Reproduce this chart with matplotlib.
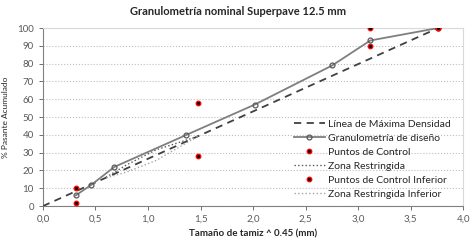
import numpy as np
import matplotlib
matplotlib.use("Agg")
import matplotlib.pyplot as plt

plt.rcParams['font.family'] = ['Lato', 'DejaVu Sans']

# sieve sizes raised to 0.45
x_maxden = [0.0, 3.762]
y_maxden = [0.0, 100.0]

x_design = [3.762, 3.116, 2.754, 2.016, 1.366, 0.680, 0.462, 0.312]
y_design = [100, 93, 79, 57, 40, 22, 12, 6]

x_ctrl = [3.762, 3.116, 1.472, 0.312]
y_ctrl_sup = [100, 100, 58, 10]
y_ctrl_inf = [100, 90, 28, 2]

x_rz = [1.472, 1.077, 0.795, 0.582]
y_rz_sup = [39.1, 31.6, 23.1, 15.5]
y_rz_inf = [39.1, 25.6, 19.1, 15.5]

xticks = np.arange(0, 4.01, 0.5)
yticks = np.arange(0, 101, 10)

fig = plt.figure(figsize=(4.77, 2.48), dpi=100)
ax = fig.add_axes([0.090, 0.169, 0.881, 0.718])

ax.plot(x_maxden, y_maxden, ls=(0, (4, 3)), color='#404040', lw=1.3,
        label='Línea de Máxima Densidad', zorder=3)
ax.plot(x_design, y_design, color='#7f7f7f', lw=1.3, marker='o', ms=3.5,
        mfc='none', mec='#595959', mew=0.9, label='Granulometría de diseño', zorder=4)
ax.plot(x_ctrl, y_ctrl_sup, ls='none', marker='o', ms=3.2, mfc='black',
        mec='red', mew=1.0, label='Puntos de Control', zorder=5)
ax.plot(x_rz, y_rz_sup, ls=':', color='#595959', lw=1.0,
        label='Zona Restringida', zorder=3)
ax.plot(x_ctrl, y_ctrl_inf, ls='none', marker='o', ms=3.2, mfc='black',
        mec='red', mew=1.0, label='Puntos de Control Inferior', zorder=5)
ax.plot(x_rz, y_rz_inf, ls=':', color='#a6a6a6', lw=1.0,
        label='Zona Restringida Inferior', zorder=3)

ax.set_xlim(0, 4)
ax.set_ylim(0, 100)
ax.set_xticks(xticks)
ax.set_xticklabels([f"{v:.1f}".replace('.', ',') for v in xticks])
ax.set_yticks(yticks)
ax.tick_params(labelsize=7, colors='#595959', length=3, width=0.6)
ax.grid(axis='y', ls=':', color='#bfbfbf', lw=0.8)
for side in ['left', 'bottom']:
    ax.spines[side].set_color('#808080')
for side in ['top', 'right']:
    ax.spines[side].set_color('#d9d9d9')

ax.set_xlabel('Tamaño de tamiz ^ 0.45 (mm)', fontsize=7, fontweight='bold',
              color='#262626', labelpad=4)
ax.set_ylabel('% Pasante Acumulado', fontsize=6, color='#262626', labelpad=6)
fig.suptitle('Granulometría nominal Superpave 12.5 mm', fontsize=8,
             fontweight='bold', color='#262626', x=0.5, y=0.975)

leg = ax.legend(loc='lower right', bbox_to_anchor=(0.988, 0.0), frameon=False,
                fontsize=7.5, handlelength=3.0, handletextpad=0.3, labelspacing=0.45,
                borderaxespad=0.3)
for t in leg.get_texts():
    t.set_color('#262626')

fig.savefig('out.png', dpi=100)
